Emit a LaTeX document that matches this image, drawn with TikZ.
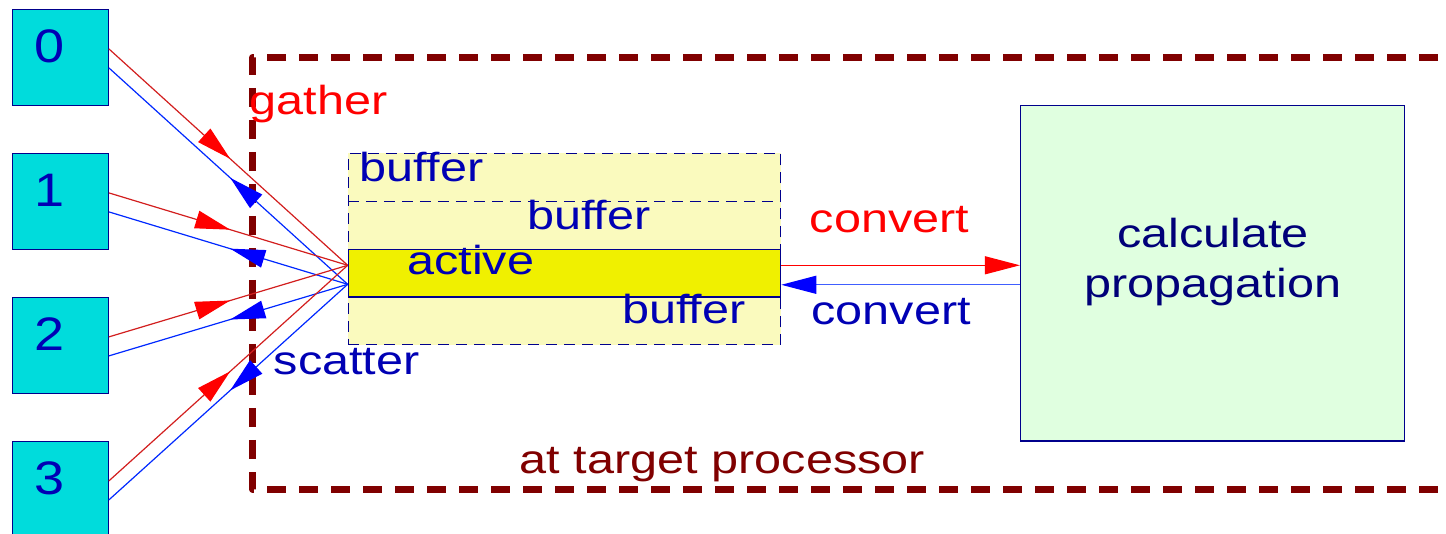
\documentclass[tikz,border=0pt]{standalone}
\usepackage{fontspec}
\setmainfont{Liberation Sans}
\usepackage{graphicx}
\usetikzlibrary{arrows.meta,calc,decorations.markings}
\definecolor{cyanbox}{RGB}{0,220,220}
\definecolor{navyline}{RGB}{0,0,140}
\definecolor{txtblue}{RGB}{0,0,180}
\definecolor{navytxt}{RGB}{0,0,120}
\definecolor{frameRed}{RGB}{128,0,0}
\definecolor{bufYellow}{RGB}{250,250,190}
\definecolor{actYellow}{RGB}{240,240,0}
\definecolor{calcGreen}{RGB}{224,255,224}
\definecolor{lineRed}{RGB}{210,30,30}
\definecolor{lineBlue}{RGB}{0,40,255}
\newcommand\sx[1]{\scalebox{1.2}[1]{#1}}
\newcommand\sxd[1]{\scalebox{1.15}[1]{#1}}
\begin{document}
\begin{tikzpicture}[x=1pt,y=-1pt,
  procbox/.style={draw=navyline, line width=1.2pt, fill=cyanbox, minimum width=96pt, minimum height=96pt, inner sep=0pt},
  digit/.style={anchor=base west, inner sep=0pt, text=txtblue, font=\fontsize{47}{50}\selectfont},
  lbl/.style={anchor=base west, inner sep=0pt, font=\fontsize{40.5}{50}\selectfont},
  frame/.style={draw=frameRed, line width=6.5pt, dash pattern=on 19pt off 13pt, line join=round},
  bufbox/.style={draw=navyline, line width=1pt, fill=bufYellow, dash pattern=on 11pt off 7pt, minimum width=432.4pt, minimum height=191.7pt, inner sep=0pt},
  bufdiv/.style={draw=navyline, line width=1pt, dash pattern=on 11pt off 7pt},
  actbox/.style={draw=navyline, line width=1.2pt, fill=actYellow, minimum width=432.4pt, minimum height=47.3pt, inner sep=0pt},
  calcbox/.style={draw=navyline, line width=1.2pt, fill=calcGreen, minimum width=383.8pt, minimum height=335.5pt, inner sep=0pt},
  gline/.style={draw=lineRed, line width=1.2pt, postaction={decorate},
    decoration={markings, mark=at position 0.508 with {\arrow{Triangle[length=35pt,width=18pt,color=red]}}}},
  sline/.style={draw=lineBlue, line width=1.2pt, postaction={decorate},
    decoration={markings, mark=at position 0.492 with {\arrow{Triangle[length=35pt,width=18pt,color=blue]}}}},
  redconv/.style={draw=red, line width=1.2pt, -{Triangle[length=35pt,width=18pt,color=red]}},
  blueconv/.style={draw=lineBlue!75!white, line width=1.2pt, -{Triangle[length=35pt,width=18pt,color=blue]}}
]
\useasboundingbox (0,0) rectangle (1446,534);

% outer dashed frame
\draw[frame] (1470,57.5) -- (252.5,57.5) -- (252.5,489.3) -- (1470,489.3);

% processor boxes
\node[procbox] (b0) at (60.3,57.5) {};
\node[procbox] (b1) at (60.3,201.5) {};
\node[procbox] (b2) at (60.3,345.5) {};
\node[procbox] (b3) at (60.3,489.5) {};
\node[digit] (l0) at ($(b0.north west)+(22.8,54)$) {\sxd{0}};
\node[digit] (l1) at ($(b1.north west)+(22.8,54)$) {\sxd{1}};
\node[digit] (l2) at ($(b2.north west)+(22.8,54)$) {\sxd{2}};
\node[digit] (l3) at ($(b3.north west)+(22.8,54)$) {\sxd{3}};

% buffers
\node[bufbox] (buf) at (564.5,249.15) {};
\draw[bufdiv] ($(buf.north west)+(0,48.4)$) -- ($(buf.north east)+(0,48.4)$);
\node[actbox] (act) at (564.5,273.3) {};

% calculation box
\node[calcbox] (calc) at (1212.4,273.3) {};

% gather / scatter connectors
\coordinate (gin) at ($(act.west)+(0,-8)$);
\coordinate (sout) at ($(act.west)+(0,11)$);
\foreach \b in {b0,b1,b2,b3}{
  \draw[gline] ($(\b.north east)+(0,40)$) -- (gin);
  \draw[sline] (sout) -- ($(\b.north east)+(0,59)$);
}

% convert connectors
\draw[redconv] ($(act.east)+(0,-8)$) -- ($(calc.west)+(0,-8)$);
\draw[blueconv] ($(calc.west)+(0,11.5)$) -- ($(act.east)+(0,11.5)$);

% labels
\node[lbl, text=red] (tgather) at (249.7,115) {\sx{gather}};
\node[lbl, text=txtblue] (tbuf1) at (359.7,181.7) {\sx{buffer}};
\node[lbl, text=txtblue] (tbuf2) at (527,229.3) {\sx{buffer}};
\node[lbl, text=txtblue] (tact) at (407,275) {\sx{active}};
\node[lbl, text=txtblue] (tbuf3) at (622,324) {\sx{buffer}};
\node[lbl, text=txtblue] (tscatter) at (273.5,375) {\sx{scatter}};
\node[lbl, text=red] (tconv1) at (809.7,232.7) {\sx{convert}};
\node[lbl, text=txtblue] (tconv2) at (811.3,325) {\sx{convert}};
\node[lbl, text=frameRed] (ttarget) at (519.7,473.3) {\sx{at target processor}};
\node[anchor=north, inner sep=0pt, align=center, text=navytxt, font=\fontsize{40.5}{50}\selectfont] (tcalc) at (1213,218.1) {\sx{calculate}\\\sx{propagation}};
\end{tikzpicture}
\end{document}
